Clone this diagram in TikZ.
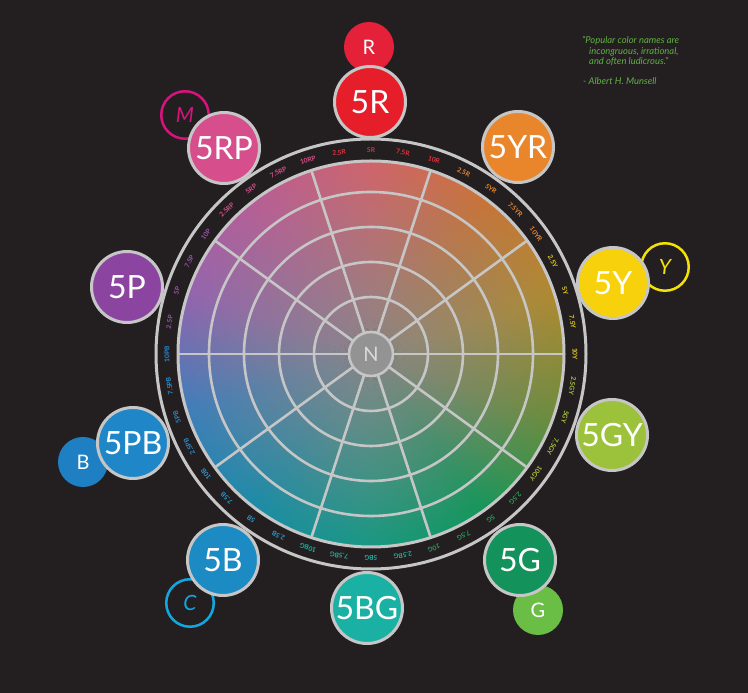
\documentclass[tikz,border=0pt]{standalone}
\usepackage{fontspec}
\setmainfont{Lato}
\definecolor{bgc}{HTML}{231F20}
\definecolor{ringc}{HTML}{C6C6C6}
\definecolor{wgrey}{HTML}{8A8687}
% wheel edge anchors, counter-clockwise from R at 90 deg
\definecolor{w0}{HTML}{D0646A}
\definecolor{w1}{HTML}{B95E94}
\definecolor{w2}{HTML}{9464AE}
\definecolor{w3}{HTML}{3E7EBA}
\definecolor{w4}{HTML}{1A8CA6}
\definecolor{w5}{HTML}{189882}
\definecolor{w6}{HTML}{14965A}
\definecolor{w7}{HTML}{6E8C3C}
\definecolor{w8}{HTML}{AE8A30}
\definecolor{w9}{HTML}{C87438}
\definecolor{w10}{HTML}{D0646A}
% big circles
\definecolor{c5R}{HTML}{E61E2A}
\definecolor{c5YR}{HTML}{E9862B}
\definecolor{c5Y}{HTML}{F7D10C}
\definecolor{c5GY}{HTML}{9CC13B}
\definecolor{c5G}{HTML}{13935B}
\definecolor{c5BG}{HTML}{1AB1A4}
\definecolor{c5B}{HTML}{1D8BC3}
\definecolor{c5PB}{HTML}{1F86C8}
\definecolor{c5P}{HTML}{8B45A0}
\definecolor{c5RP}{HTML}{D64E8B}
% small circles
\definecolor{cR}{HTML}{E5213A}
\definecolor{cG}{HTML}{6BBE45}
\definecolor{cB}{HTML}{1F7FC3}
\definecolor{cM}{HTML}{D8127F}
\definecolor{cY}{HTML}{F2E205}
\definecolor{cC}{HTML}{13A7E0}
% ring labels
\definecolor{lR}{HTML}{E2323E}
\definecolor{lYR}{HTML}{EE8A2B}
\definecolor{lY}{HTML}{E6CF1E}
\definecolor{lGY}{HTML}{A9C83C}
\definecolor{lG}{HTML}{22A35E}
\definecolor{lBG}{HTML}{1FB1A2}
\definecolor{lB}{HTML}{2B9BD3}
\definecolor{lPB}{HTML}{2A8DD2}
\definecolor{lP}{HTML}{9B52B0}
\definecolor{lRP}{HTML}{D9508F}
\definecolor{quotec}{HTML}{62B046}
\definecolor{nfill}{HTML}{939393}
\definecolor{ntext}{HTML}{DADADA}
\begin{document}
\begin{tikzpicture}[x=1pt,y=1pt,
  bigc/.style={circle, draw=ringc, line width=3pt, minimum size=71pt, inner sep=0pt, text=white, font=\fontsize{32}{32}\selectfont},
  smallf/.style={circle, minimum size=50pt, inner sep=0pt, text=white, font=\fontsize{20}{20}\selectfont},
  smallo/.style={circle, line width=2.5pt, minimum size=47.5pt, inner sep=0pt, font=\fontsize{21}{21}\selectfont\itshape},
  hlab/.style={font=\fontsize{6.6}{6.6}\selectfont\bfseries, inner sep=0pt},
  gridline/.style={draw=ringc, line width=2.6pt},
  ringline/.style={draw=ringc, line width=3pt},
  ncirc/.style={circle, fill=nfill, draw=ringc, line width=2.6pt, minimum size=44pt, inner sep=0pt, text=ntext, font=\fontsize{20}{20}\selectfont},
  quotetext/.style={anchor=base west, text=quotec, font=\fontsize{9.4}{10}\selectfont\itshape, inner sep=0pt}
]
\useasboundingbox (0,0) rectangle (748,693);
\fill[bgc] (0,0) rectangle (748,693);

\begin{scope}[shift={(371,339)}]
  % colour disk: wedges with radial shading grey -> hue
  \foreach \i in {0,...,179}{
    \pgfmathsetmacro{\ang}{91+2*\i}
    \pgfmathtruncatemacro{\k}{(2*\i+1)/36}
    \pgfmathtruncatemacro{\kn}{\k+1}
    \pgfmathtruncatemacro{\p}{100-((2*\i+1)-36*\k)*100/36}
    \colorlet{wc}{w\k!\p!w\kn}
    \begin{scope}
      \clip (0,0) -- (\ang-1.35:200) arc[start angle=\ang-1.35, end angle=\ang+1.35, radius=200] -- cycle;
      \shade[inner color=wgrey, outer color=wc] (0,0) circle[radius=193];
    \end{scope}
  }
  \foreach \r in {57,92,127,162} \draw[gridline] (0,0) circle[radius=\r];
  \foreach \a in {0,36,...,324} \draw[gridline] (\a:23) -- (\a:193);
  \draw[ringline] (0,0) circle[radius=193];
  \draw[ringline] (0,0) circle[radius=215];
  \node[ncirc] (N) at (0,0) {N};
  \foreach \a/\t/\c [count=\j] in {
    99/2.5R/lR, 90/5R/lR, 81/7.5R/lR, 72/10R/lR,
    63/2.5R/lYR, 54/5YR/lYR, 45/7.5YR/lYR, 36/10YR/lYR,
    27/2.5Y/lY, 18/5Y/lY, 9/7.5Y/lY, 0/10Y/lY,
    -9/2.5GY/lGY, -18/5GY/lGY, -27/7.5GY/lGY, -36/10GY/lGY,
    -45/2.5G/lG, -54/5G/lG, -63/7.5G/lG, -72/10G/lG,
    -81/2.5BG/lBG, -90/5BG/lBG, -99/7.5BG/lBG, -108/10BG/lBG,
    -117/2.5B/lB, -126/5B/lB, -135/7.5B/lB, -144/10B/lB,
    -153/2.5PB/lPB, -162/5PB/lPB, -171/7.5PB/lPB, -180/10PB/lPB,
    171/2.5P/lP, 162/5P/lP, 153/7.5P/lP, 144/10P/lP,
    135/2.5RP/lRP, 126/5RP/lRP, 117/7.5RP/lRP, 108/10RP/lRP}
    \node[hlab, text=\c, rotate=\a-90] (lab\j) at (\a:204) {\t};
\end{scope}

% small circles (behind the big ones)
\node[smallf, fill=cR] (sR) at (369,646) {R};
\node[smallo, draw=cM, text=cM] (sM) at (185,578) {M};
\node[smallo, draw=cY, text=cY] (sY) at (665,426) {Y};
\node[smallf, fill=cG] (sG) at (538,83) {G};
\node[smallo, draw=cC, text=cC] (sC) at (190,90) {C};
\node[smallf, fill=cB] (sB) at (83,231) {B};

% big circles
\node[bigc, fill=c5R] (b5R) at (370,591) {5R};
\node[bigc, fill=c5YR] (b5YR) at (518,546) {5YR};
\node[bigc, fill=c5Y] (b5Y) at (613,410) {5Y};
\node[bigc, fill=c5GY] (b5GY) at (612,258) {5GY};
\node[bigc, fill=c5G] (b5G) at (520,133) {5G};
\node[bigc, fill=c5BG] (b5BG) at (367,85) {5BG};
\node[bigc, fill=c5B] (b5B) at (223,133) {5B};
\node[bigc, fill=c5PB] (b5PB) at (133,250) {5PB};
\node[bigc, fill=c5P] (b5P) at (127,406) {5P};
\node[bigc, fill=c5RP] (b5RP) at (224,545) {5RP};

% quote
\node[quotetext] (q1) at (582,649.5) {“Popular color names are};
\node[quotetext] (q2) at (589,638.5) {incongruous, irrational,};
\node[quotetext] (q3) at (589,628) {and often ludicrous.”};
\node[quotetext] (q4) at (583,608.5) {- Albert H. Munsell};
\end{tikzpicture}
\end{document}
